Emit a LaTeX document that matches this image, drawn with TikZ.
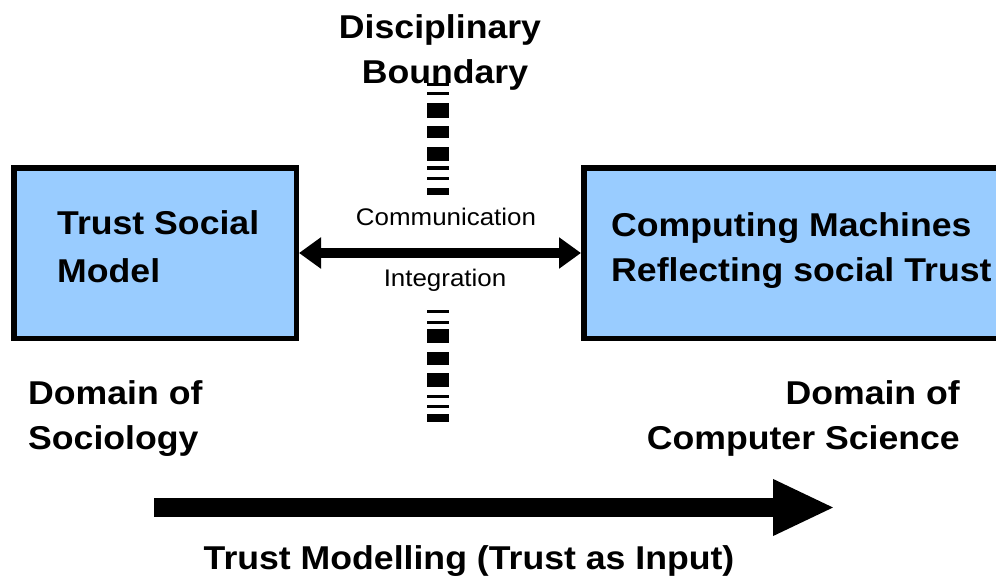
\documentclass[tikz,border=0pt]{standalone}
\usepackage{fontspec}
\setmainfont{Liberation Sans}[FakeStretch=1.08]
\usetikzlibrary{arrows.meta,positioning}

\definecolor{boxblue}{RGB}{153,204,255}

\begin{document}
\begin{tikzpicture}[
  x=1pt,
  y=-1pt,
  tbox/.style={
    draw=black,
    fill=boxblue,
    line width=5.5pt,
    minimum height=170.5pt,
    inner sep=0pt
  },
  bigtxt/.style={
    font=\fontsize{33}{45}\selectfont\bfseries,
    align=left,
    inner sep=0pt
  },
  smalltxt/.style={
    font=\fontsize{24}{28}\selectfont,
    inner sep=0pt
  },
  dblarrow/.style={
    line width=9.5pt,
    {Triangle[length=22pt,width=30pt]}-{Triangle[length=22pt,width=30pt]}
  },
  flowarrow/.style={
    line width=19pt,
    -{Triangle[length=62pt,width=52pt]}
  },
]
\useasboundingbox (0,0) rectangle (996,583);
\clip (0,0) rectangle (996,583);

% the two domains
\node[tbox, minimum width=282.5pt] (socmodel) at (155,253) {};
\node[tbox, minimum width=440pt, anchor=west] (compmach) at (581,253) {};
\node[bigtxt, anchor=north west, font=\fontsize{33}{48}\selectfont\bfseries] (socmodeltxt) at (57,210) {Trust Social\\Model};
\node[bigtxt, anchor=north west] (compmachtxt) at (611,212) {Computing Machines\\Reflecting social Trust};

% boundary between them
\node[bigtxt, align=center, anchor=north] (boundary) at (440,14) {Disciplinary\\\hspace*{10pt}Boundary};
\foreach \ya/\yb in {83.5/86.5, 92.5/95.5, 103/118, 126/138.5, 147/161, 166.5/169.5, 176.5/179.5, 188/195,
                     309.5/312.5, 320.5/323.5, 329/343, 352/365, 373/387, 394.5/397.5, 404.5/407.5, 414/422}
  \fill (427,\ya) rectangle (449,\yb);

\draw[dblarrow] (socmodel) -- (compmach);
\node[smalltxt] (comm) at (446,217) {Communication};
\node[smalltxt] (integ) at (445,280) {Integration};

\node[bigtxt, anchor=north west] (sociology) at (28,380) {Domain of\\Sociology};
\node[bigtxt, align=right, anchor=north east] (compsci) at (960,380) {Domain of\\Computer Science};

% modelling direction
\coordinate (flowstart) at (154,507.5);
\coordinate (flowend) at (835,507.5);
\draw[flowarrow] (flowstart) -- (flowend);
\node[bigtxt, anchor=north] (modelling) at (469,545) {Trust Modelling (Trust as Input)};
\end{tikzpicture}
\end{document}
